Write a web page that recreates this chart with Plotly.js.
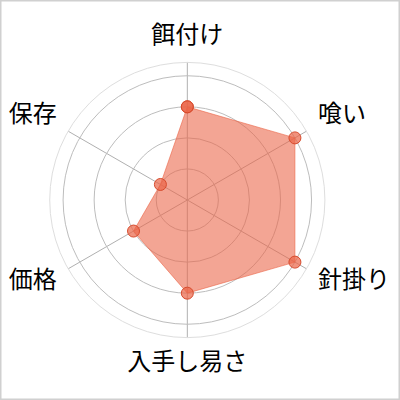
<!DOCTYPE html>
<html>
<head>
<meta charset="utf-8">
<script src="https://cdn.plot.ly/plotly-3.0.1.min.js"></script>
<style>
  body { margin: 0; background: #fff; }
  #chart { width: 400px; height: 400px; }
</style>
</head>
<body>
<div id="chart"></div>
<script>
// Axis categories and scores
var categories = ["餌付け", "喰い", "針掛り", "入手し易さ", "価格", "保存"];
var scores = [3, 4, 4, 3, 2, 1];

var W = 400, H = 400;
var baseX = [0.124, 0.8126], baseY = [0.156, 0.844];

// close the polygon
var r = scores.concat([scores[0]]);
var theta = categories.concat([categories[0]]);

var data = [{
    type: "scatterpolar",
    r: r,
    theta: theta,
    mode: "lines+markers",
    fill: "toself",
    fillcolor: "rgba(235,100,70,0.58)",
    line: {color: "rgba(235,100,70,0.6)", width: 1},
    marker: {size: 12, color: "rgba(235,100,70,0.7)", line: {color: "rgb(215,75,45)", width: 1}},
    hoverinfo: "skip"
}];

var radial = {
    range: [0, 4.43],
    dtick: 1,
    showticklabels: false,
    showline: false,
    ticks: ""
};

var layout = {
    width: W,
    height: H,
    margin: {t: 0, b: 0, l: 0, r: 0},
    showlegend: false,
    paper_bgcolor: "#fff",
    font: {family: "'Noto Sans CJK JP', sans-serif", color: "#000"},
    polar: {
        domain: {x: baseX, y: baseY},
        bgcolor: "rgba(0,0,0,0)",
        radialaxis: Object.assign({gridcolor: "#bdbdbd", gridwidth: 1}, radial),
        angularaxis: {
            direction: "clockwise",
            rotation: 90,
            gridcolor: "#b0b0b0",
            linecolor: "#dedede",
            linewidth: 1,
            showticklabels: false,
            ticks: ""
        }
    },
    shapes: [{
        type: "rect", xref: "paper", yref: "paper",
        x0: 0, x1: 1, y0: 0, y1: 1,
        line: {color: "#d0d0d0", width: 3}
    }]
};

// label-only overlays so the category labels sit like the original
// (top/bottom pair and side labels nudged separately, offsets in px)
var labelLayers = [
    {show: ["餌付け", "入手し易さ"], dx: 0, dy: 3, ticklen: 6},
    {show: ["喰い", "針掛り", "価格", "保存"], dx: 0, dy: 7, ticklen: 8}
];

labelLayers.forEach(function (lay, i) {
    var name = "polar" + (i + 2);
    data.push({
        type: "scatterpolar",
        subplot: name,
        r: scores,
        theta: categories,
        mode: "markers",
        marker: {opacity: 0},
        hoverinfo: "skip"
    });
    layout[name] = {
        domain: {
            x: [baseX[0] + lay.dx / W, baseX[1] + lay.dx / W],
            y: [baseY[0] + lay.dy / H, baseY[1] + lay.dy / H]
        },
        bgcolor: "rgba(0,0,0,0)",
        radialaxis: Object.assign({showgrid: false, visible: false}, radial),
        angularaxis: {
            direction: "clockwise",
            rotation: 90,
            showgrid: false,
            showline: false,
            tickmode: "array",
            tickvals: categories,
            ticktext: categories.map(function (c) { return lay.show.indexOf(c) >= 0 ? c : ""; }),
            ticks: "outside",
            ticklen: lay.ticklen,
            tickcolor: "rgba(0,0,0,0)",
            tickfont: {size: 24, color: "#000"}
        }
    };
});

Plotly.newPlot("chart", data, layout, {staticPlot: true});
</script>
</body>
</html>
